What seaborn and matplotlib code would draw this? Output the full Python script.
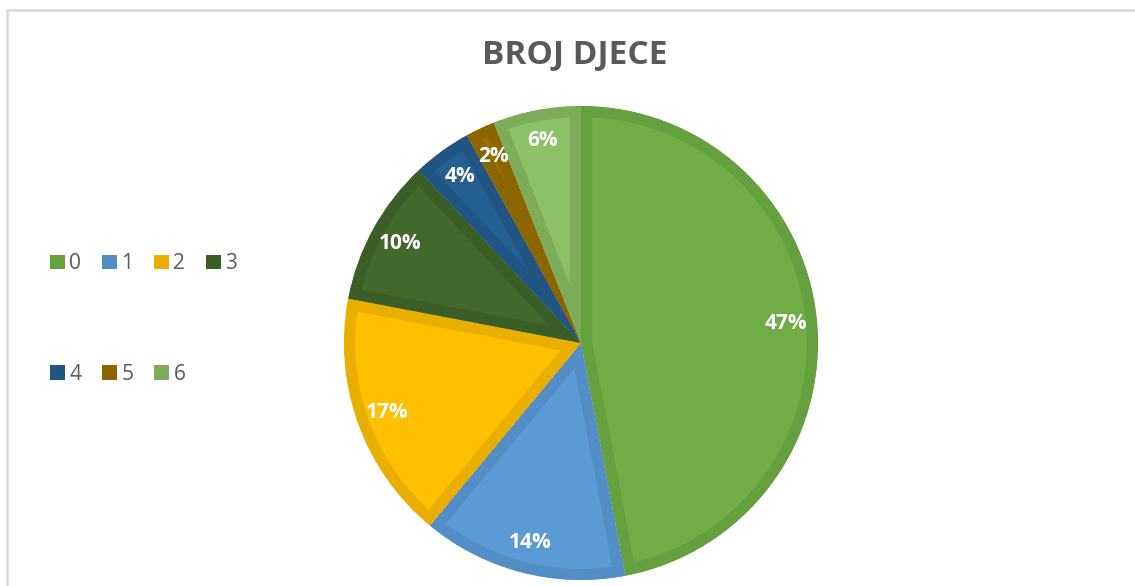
import matplotlib
matplotlib.use("Agg")
import matplotlib.pyplot as plt
import seaborn as sns
from matplotlib.patches import Patch, Rectangle

# data
categories = ["0", "1", "2", "3", "4", "5", "6"]
shares = [47, 14, 17, 10, 4, 2, 6]

# Excel-like palette: fill colour and darker inner border
fill_colors = ["#70AD47", "#5B9BD5", "#FFC000", "#43682B", "#255E91", "#9E7000", "#8CC168"]
edge_colors = ["#65A03F", "#538DC6", "#E8AF00", "#3B5E26", "#215583", "#8A6500", "#7EAD5A"]

sns.set_theme(style="white")
plt.rcParams["font.family"] = ["Open Sans", "DejaVu Sans"]

W, H = 1135, 586
fig = plt.figure(figsize=(W / 100, H / 100), dpi=100)

# light gray chart frame (right/bottom edges fall outside the picture)
fig.patches.append(Rectangle((6.5 / W, -0.1), 1.2, 1.1 - 9.5 / H,
                             transform=fig.transFigure, fill=False,
                             edgecolor="#D9D9D9", linewidth=1.8))

# pie axes: centre ~ (581, 343) px, radius ~ 237 px
cx, cy, r = 581, 343, 237
ax = fig.add_axes([(cx - r) / W, (H - cy - r) / H, 2 * r / W, 2 * r / H])

wedges, _, autotexts = ax.pie(
    shares, colors=fill_colors, startangle=90, counterclock=False,
    autopct=lambda p: f"{p:.0f}%", pctdistance=0.87,
    wedgeprops=dict(linewidth=0),
    textprops=dict(color="white", fontsize=15, fontweight="bold"),
)
ax.set_xlim(-1, 1)
ax.set_ylim(-1, 1)
ax.set_aspect("equal")
ax.axis("off")

# inner border: thick stroke clipped to the wedge itself
for w, ec in zip(wedges, edge_colors):
    w.set_edgecolor(ec)
    w.set_linewidth(16)
    w.set_joinstyle("round")
    w.set_clip_on(True)
    w.set_clip_path(w.get_path(), w.get_transform())

fig.text(575 / W, 1 - 55 / H, "BROJ DJECE", ha="center", va="center",
         fontsize=24, fontweight="bold", color="#595959")

# legend, two rows filled row-wise
handles = [Patch(facecolor=c, edgecolor="none") for c in edge_colors]
order = [0, 4, 1, 5, 2, 6, 3]
fig.legend([handles[i] for i in order], [categories[i] for i in order],
           ncol=4, loc="upper left", bbox_to_anchor=(42 / W, 1 - 245 / H),
           frameon=False, fontsize=15, labelcolor="#595959",
           handlelength=0.72, handleheight=0.72, handletextpad=0.2,
           columnspacing=1.0, labelspacing=4.3, borderaxespad=0)

fig.savefig("out.png", dpi=100)
